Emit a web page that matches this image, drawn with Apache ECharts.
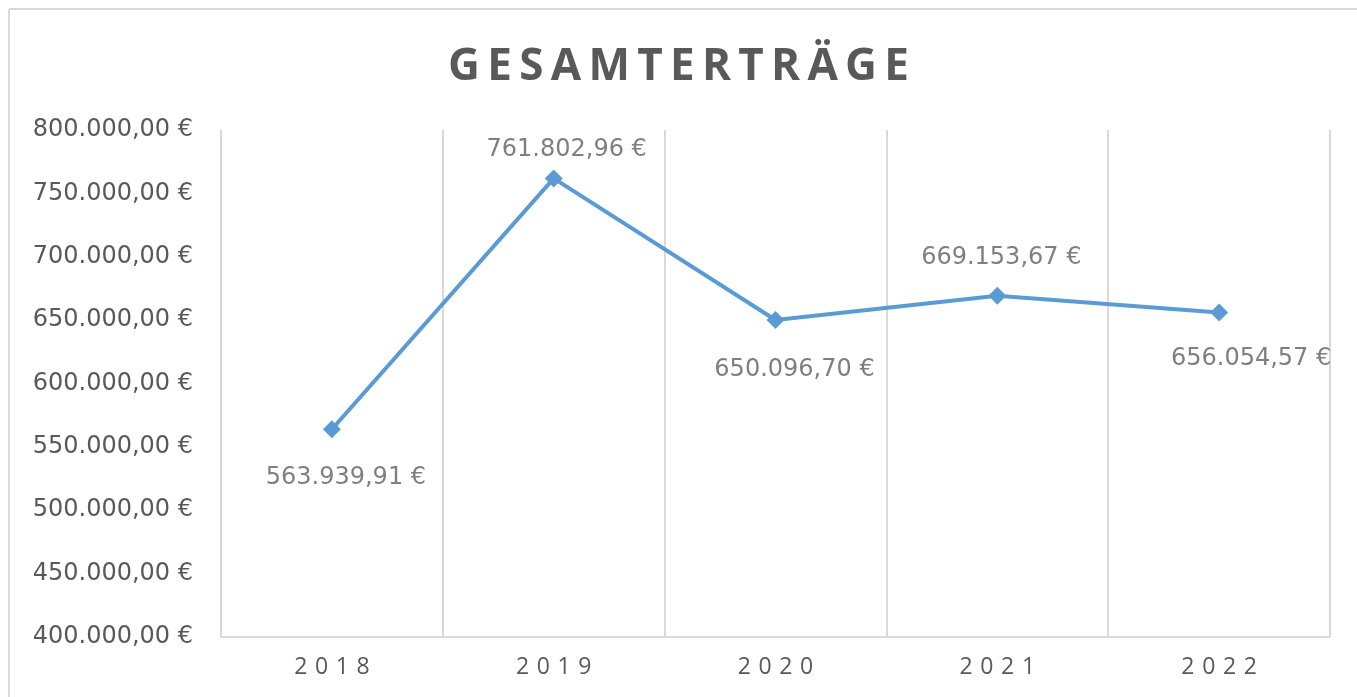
<!DOCTYPE html>
<html>
<head>
<meta charset="utf-8">
<script src="https://cdn.jsdelivr.net/npm/echarts@6/dist/echarts.min.js"></script>
<style>
  html, body { margin: 0; padding: 0; background: #fff; }
  #chart { width: 1357px; height: 697px; }
</style>
</head>
<body>
<div id="chart"></div>
<script>
// data
const years = ["2018", "2019", "2020", "2021", "2022"];
const ertraege = [563939.91, 761802.96, 650096.70, 669153.67, 656054.57];
const labelPos = ["bottom", "top", "bottom", "top", "bottom"];
const labelShift = [[14, 16], [13, 4], [19, 17], [4, -5], [32, 13]];

// 1234567.8 -> "1.234.567,80 €"
function euro(v) {
  const parts = v.toFixed(2).split(".");
  const int = parts[0].replace(/\B(?=(\d{3})+(?!\d))/g, ".");
  return int + "," + parts[1] + " €";
}

function spaced(s, sep) {
  return s.split("").join(sep);
}

const chart = echarts.init(document.getElementById("chart"));
const font = "'Open Sans', 'Noto Sans', sans-serif";
const wide = "'DejaVu Sans', 'Open Sans', sans-serif";

const option = {
  backgroundColor: "#fff",
  animation: false,
  title: {
    text: spaced("GESAMTERTRÄGE", "\u2009"),
    left: "center",
    top: 40,
    textStyle: {
      color: "#595959",
      fontFamily: font,
      fontWeight: "bold",
      fontSize: 44,
    },
  },
  graphic: [
    {
      type: "line",
      shape: { x1: 9, y1: 9, x2: 1357, y2: 9 },
      style: { stroke: "#d9d9d9", lineWidth: 2 },
    },
    {
      type: "line",
      shape: { x1: 9, y1: 9, x2: 9, y2: 697 },
      style: { stroke: "#d9d9d9", lineWidth: 2 },
    },
  ],
  grid: {
    left: 221,
    right: 27,
    top: 130,
    bottom: 60,
  },
  xAxis: {
    type: "category",
    data: years,
    boundaryGap: true,
    axisLine: { show: true, lineStyle: { color: "#d9d9d9", width: 2 } },
    axisTick: { show: false },
    splitLine: { show: true, interval: 0, lineStyle: { color: "#d9d9d9", width: 2 } },
    axisLabel: {
      color: "#595959",
      fontFamily: font,
      fontSize: 23,
      margin: 19,
      formatter: (v) => spaced(v, "\u2009\u2009"),
    },
  },
  yAxis: {
    type: "value",
    min: 400000,
    max: 800000,
    interval: 50000,
    axisLine: { show: false },
    axisTick: { show: false },
    splitLine: { show: false },
    axisLabel: {
      color: "#595959",
      fontFamily: wide,
      fontSize: 24,
      margin: 28,
      formatter: (v) => euro(v),
    },
  },
  series: [
    {
      type: "line",
      data: ertraege.map((v, i) => ({
        value: v,
        label: { position: labelPos[i], offset: labelShift[i] },
      })),
      symbol: "diamond",
      symbolSize: 18,
      lineStyle: { color: "#5b9bd5", width: 4 },
      itemStyle: { color: "#5b9bd5" },
      label: {
        show: true,
        color: "#7f7f7f",
        fontFamily: wide,
        fontSize: 24,
        distance: 12,
        formatter: (p) => euro(p.value),
      },
    },
  ],
};
chart.setOption(option);
</script>
</body>
</html>
